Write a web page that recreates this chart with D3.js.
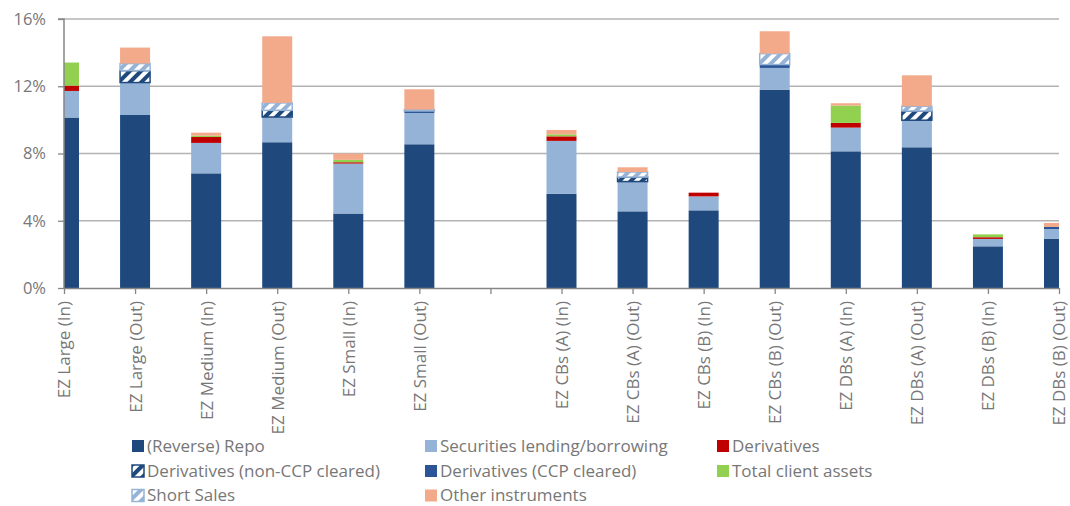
<!DOCTYPE html>
<html><head><meta charset="utf-8">
<script src="https://cdn.jsdelivr.net/npm/d3@7/dist/d3.min.js"></script>
<style>body{margin:0;background:#fff}svg{display:block}text{font-family:"Open Sans",sans-serif;fill:#777}</style>
</head><body>
<svg id="c" width="1070" height="506"></svg>
<script>
const categories = ["EZ Large (In)","EZ Large (Out)","EZ Medium (In)","EZ Medium (Out)","EZ Small (In)","EZ Small (Out)","",
  "EZ CBs (A) (In)","EZ CBs (A) (Out)","EZ CBs (B) (In)","EZ CBs (B) (Out)","EZ DBs (A) (In)","EZ DBs (A) (Out)","EZ DBs (B) (In)","EZ DBs (B) (Out)"];
const seriesNames = ["(Reverse) Repo","Securities lending/borrowing","Derivatives","Derivatives (non-CCP cleared)","Derivatives (CCP cleared)","Total client assets","Short Sales","Other instruments"];
const repo      = [10.14,10.29,6.82,8.67,4.43,8.55,0, 5.61,4.56,4.62,11.80,8.13,8.37,2.48,2.92];
const secLend   = [1.58,1.93,1.81,1.50,2.97,1.86,0, 3.14,1.77,0.83,1.29,1.41,1.61,0.44,0.59];
const deriv     = [0.32,0,0.35,0,0.08,0,0, 0.27,0,0.22,0,0.28,0,0.10,0];
const nonCCP    = [0,0.71,0,0.40,0,0,0, 0,0.27,0,0,0,0.55,0,0];
const ccp       = [0,0,0,0,0,0.12,0, 0,0,0,0.20,0,0,0,0.12];
const clientAss = [1.37,0,0.08,0,0.14,0,0, 0.12,0,0,0,1.03,0,0.17,0];
const shortSale = [0,0.42,0,0.44,0,0.08,0, 0,0.30,0,0.65,0,0.28,0,0];
const other     = [0,0.95,0.18,3.96,0.38,1.21,0, 0.26,0.28,0,1.33,0.14,1.84,0,0.24];
const yTicks = [0,4,8,12,16];

const seriesVals = [repo,secLend,deriv,nonCCP,ccp,clientAss,shortSale,other];
const keys = d3.range(seriesNames.length);
const table = categories.map((c,i)=>{const o={cat:c,i:i}; keys.forEach(k=>o[k]=seriesVals[k][i]); return o;});

const fills = ["#1F497D","#95B3D7","#C00000","url(#hNon)","#2B5597","#92D050","url(#hShort)","#F2AA8A"];
const strokes = [null,null,null,"#1F497D",null,null,"#95B3D7",null];

const svg = d3.select("#c");
const L=64,R=1059,T=19,B=288;
const x = d3.scalePoint().domain(d3.range(categories.length)).range([L,R]);
const y = d3.scaleLinear().domain([0,16]).range([B,T]);
const bw = 30;

const defs = svg.append("defs");
function hatch(id,bg,fg){
  const p=defs.append("pattern").attr("id",id).attr("patternUnits","userSpaceOnUse")
    .attr("width",8).attr("height",8).attr("patternTransform","rotate(45)");
  p.append("rect").attr("width",8).attr("height",8).attr("fill",bg);
  p.append("rect").attr("width",4).attr("height",8).attr("fill",fg);
}
hatch("hNon","#1F497D","#ffffff");
hatch("hShort","#95B3D7","#ffffff");
defs.append("clipPath").attr("id","plot").append("rect").attr("x",L).attr("y",0).attr("width",R-L).attr("height",B);

// gridlines
svg.append("g").selectAll("line").data(yTicks.filter(d=>d>0)).join("line")
  .attr("x1",L).attr("x2",R).attr("y1",d=>y(d)).attr("y2",d=>y(d))
  .attr("stroke","#b3b3b3").attr("stroke-width",1.3);

// bars
const stack = d3.stack().keys(keys)(table);
const gb = svg.append("g").attr("clip-path","url(#plot)");
stack.forEach((layer,k)=>{
  gb.append("g").selectAll("rect").data(layer.filter(d=>d[1]-d[0]>0)).join("rect")
    .attr("x",d=>x(d.data.i)-bw/2).attr("width",bw)
    .attr("y",d=>y(d[1])).attr("height",d=>y(d[0])-y(d[1]))
    .attr("fill",fills[k])
    .attr("stroke",strokes[k]||"none").attr("stroke-width",strokes[k]?1.5:0);
});

// y axis
const ya = svg.append("g").attr("transform",`translate(${L},0)`)
  .call(d3.axisLeft(y).tickValues(yTicks).tickFormat(d=>d+"%").tickSize(6).tickPadding(12));
ya.select(".domain").attr("stroke","#868686").attr("stroke-width",1.5).attr("d",`M-6,${T}H0V${B}`);
ya.selectAll(".tick line").attr("stroke","#868686").attr("stroke-width",1.3);
ya.selectAll(".tick text").attr("font-size","16.5px").style("font-family","'Open Sans',sans-serif").attr("fill","#777");

// x axis
const xa = svg.append("g").attr("transform",`translate(0,${B})`)
  .call(d3.axisBottom(x).tickFormat(i=>categories[i]).tickSize(6).tickSizeOuter(0));
xa.select(".domain").attr("stroke","#868686").attr("stroke-width",1.5);
xa.selectAll(".tick line").attr("stroke","#868686").attr("stroke-width",1.3);
xa.selectAll(".tick text").attr("font-size","17px").style("font-family","'Open Sans',sans-serif").attr("fill","#777")
  .attr("text-anchor","end").attr("transform","rotate(-90)").attr("x",-13).attr("y",0).attr("dy","0.35em");

// legend
const legCols=[132,425,717], legRows=[446,471,495.5];
const lg = svg.append("g");
seriesNames.forEach((n,k)=>{
  const cx=legCols[k%3], cy=legRows[Math.floor(k/3)];
  lg.append("rect").attr("x",cx).attr("y",cy-6).attr("width",12).attr("height",12)
    .attr("fill",fills[k]).attr("stroke",strokes[k]||"none").attr("stroke-width",strokes[k]?1.5:0);
  lg.append("text").attr("x",cx+15).attr("y",cy).attr("dy","0.35em").attr("font-size","17px").text(n);
});
</script>
</body></html>
